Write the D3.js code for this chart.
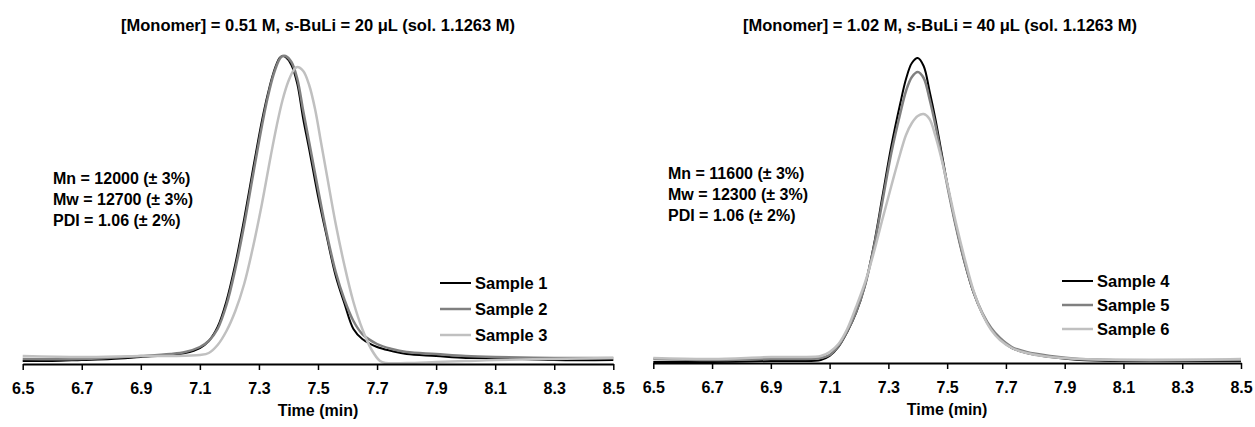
<!DOCTYPE html>
<html><head><meta charset="utf-8">
<script src="https://cdn.jsdelivr.net/npm/d3@7"></script>
<style>
html,body{margin:0;padding:0;background:#fff;}
text{font-family:"Liberation Sans",Arial,sans-serif;font-weight:bold;fill:#000;}
</style></head>
<body>
<svg id="c" width="1255" height="427"></svg>
<script>
// ---- data ----
const xTicks = [6.5, 6.7, 6.9, 7.1, 7.3, 7.5, 7.7, 7.9, 8.1, 8.3, 8.5];
const xTickLabels = ["6.5","6.7","6.9","7.1","7.3","7.5","7.7","7.9","8.1","8.3","8.5"];

const leftTitle = ["[Monomer] = 0.51 M, ", "s", "-BuLi = 20 μL (sol. 1.1263 M)"];
const rightTitle = ["[Monomer] = 1.02 M, ", "s", "-BuLi = 40 μL (sol. 1.1263 M)"];
const leftStats = ["Mn = 12000 (± 3%)", "Mw = 12700 (± 3%)", "PDI = 1.06 (± 2%)"];
const rightStats = ["Mn = 11600 (± 3%)", "Mw = 12300 (± 3%)", "PDI = 1.06 (± 2%)"];
const leftNames = ["Sample 1", "Sample 2", "Sample 3"];
const rightNames = ["Sample 4", "Sample 5", "Sample 6"];
const xLabel = "Time (min)";

// detector signal (relative height) vs time (min)
const sample1 = [[6.50,3],[6.60,3],[6.70,4],[6.80,5],[6.90,7],[7.00,9],[7.05,11],[7.10,16],[7.13,23],[7.16,37],[7.19,63],[7.22,100],[7.25,145],[7.28,195],[7.31,243],[7.33,270],[7.35,292],[7.37,306],[7.38,308],[7.39,307],[7.41,299],[7.43,280],[7.45,245],[7.47,215],[7.50,168],[7.53,127],[7.56,88],[7.59,60],[7.62,35],[7.65,25],[7.70,17],[7.75,13],[7.80,10],[7.90,8],[8.00,6],[8.10,6],[8.30,4],[8.50,4]];
const sample2 = [[6.50,5],[6.70,5],[6.90,8],[7.00,10],[7.05,12],[7.10,17],[7.13,23],[7.16,35],[7.19,59],[7.22,95],[7.25,139],[7.28,189],[7.31,238],[7.33,267],[7.35,290],[7.37,305],[7.38,308],[7.39,308],[7.41,302],[7.43,285],[7.45,253],[7.47,222],[7.50,175],[7.53,130],[7.56,92],[7.59,64],[7.62,43],[7.65,30],[7.70,20],[7.75,15],[7.80,12],[7.90,10],[8.00,8],[8.10,7],[8.30,6],[8.50,6]];
const sample3 = [[6.50,8],[6.70,7],[6.90,8],[7.00,8],[7.10,9],[7.13,11],[7.16,19],[7.19,33],[7.22,53],[7.25,80],[7.28,117],[7.31,160],[7.34,208],[7.36,238],[7.38,264],[7.40,283],[7.42,295],[7.43,297],[7.45,293],[7.47,279],[7.49,255],[7.51,222],[7.53,189],[7.56,140],[7.59,98],[7.62,62],[7.65,35],[7.68,15],[7.71,3],[7.73,1],[7.80,1],[7.90,2],[8.00,3],[8.10,4],[8.30,5],[8.50,6]];
const sample4 = [[6.50,1],[6.70,1],[6.90,2],[7.00,2],[7.07,3],[7.10,7],[7.13,16],[7.16,31],[7.19,50],[7.22,77],[7.25,117],[7.28,167],[7.31,217],[7.34,259],[7.36,284],[7.38,300],[7.40,305],[7.42,297],[7.44,272],[7.46,244],[7.48,212],[7.50,180],[7.53,137],[7.56,100],[7.59,70],[7.62,49],[7.65,34],[7.68,24],[7.72,15],[7.77,10],[7.85,6],[7.95,3],[8.10,2],[8.30,2],[8.50,2]];
const sample5 = [[6.50,4],[6.70,3],[6.90,4],[7.00,4],[7.07,5],[7.10,8],[7.13,17],[7.16,32],[7.19,51],[7.22,77],[7.25,115],[7.28,162],[7.31,210],[7.34,249],[7.36,272],[7.38,286],[7.40,291],[7.42,285],[7.44,264],[7.46,238],[7.48,208],[7.50,178],[7.53,136],[7.56,100],[7.59,71],[7.62,50],[7.65,35],[7.68,25],[7.72,16],[7.77,11],[7.85,7],[7.95,4],[8.10,3],[8.30,3],[8.50,3]];
const sample6 = [[6.50,5],[6.70,4],[6.90,6],[7.00,6],[7.07,7],[7.10,11],[7.13,19],[7.16,34],[7.19,56],[7.22,80],[7.25,110],[7.28,144],[7.31,177],[7.34,209],[7.36,228],[7.38,240],[7.40,247],[7.42,249],[7.44,244],[7.46,227],[7.48,205],[7.50,180],[7.53,140],[7.56,104],[7.59,72],[7.62,49],[7.65,33],[7.68,23],[7.72,15],[7.77,10],[7.85,6],[7.95,4],[8.10,3],[8.30,3],[8.50,4]];

const seriesColors = ["#000000", "#808080", "#c0c0c0"];
const seriesWidths = [2, 2.5, 2.5];

// ---- layout ----
const svg = d3.select("#c");
const panels = [
  {x0:22.7, x1:613.3, axisY:364, title:leftTitle, tx:318, stats:leftStats, sx:53, sy:184, names:leftNames, lx:440, ly:283, lgap:26, data:[sample1,sample2,sample3]},
  {x0:653.3, x1:1241, axisY:363, title:rightTitle, tx:940, stats:rightStats, sx:668, sy:179, names:rightNames, lx:1062, ly:281, lgap:24, data:[sample4,sample5,sample6]}
];

panels.forEach(p => {
  const g = svg.append("g");
  const x = d3.scaleLinear().domain([6.5, 8.5]).range([p.x0, p.x1]);
  const y = d3.scaleLinear().domain([0, 310]).range([p.axisY, p.axisY - 310]);

  // title
  const t = g.append("text").attr("x", p.tx).attr("y", 31).attr("text-anchor", "middle").style("font-size", "16.5px");
  t.append("tspan").text(p.title[0]);
  t.append("tspan").style("font-style", "italic").text(p.title[1]);
  t.append("tspan").text(p.title[2]);

  // curves
  const line = d3.line().x(d => x(d[0])).y(d => y(d[1])).curve(d3.curveCatmullRom.alpha(0.5));
  p.data.forEach((s, i) => {
    g.append("path").datum(s).attr("d", line).attr("fill", "none")
      .attr("stroke", seriesColors[i]).attr("stroke-width", seriesWidths[i]).attr("stroke-linejoin", "round");
  });

  // axis
  const ax = d3.axisBottom(x).tickValues(xTicks).tickFormat((d, i) => xTickLabels[i]).tickSize(6).tickSizeOuter(0).tickPadding(13);
  const axg = g.append("g").attr("transform", `translate(0,${p.axisY})`).call(ax);
  axg.select(".domain").attr("stroke", "#000").attr("stroke-width", 2);
  axg.selectAll(".tick line").attr("stroke", "#000").attr("stroke-width", 1.5);
  axg.selectAll(".tick text").style("font-size", "16px").style("font-family", "'Liberation Sans',Arial,sans-serif").style("font-weight", "bold").attr("fill", "#000");

  g.append("text").attr("x", (p.x0 + p.x1) / 2).attr("y", p.axisY + 52).attr("text-anchor", "middle").style("font-size", "16px").text(xLabel);

  // stats
  p.stats.forEach((s, i) => {
    g.append("text").attr("x", p.sx).attr("y", p.sy + i * 21).style("font-size", "16px").text(s);
  });

  // legend
  p.names.forEach((n, i) => {
    const ly = p.ly + i * p.lgap;
    g.append("line").attr("x1", p.lx).attr("x2", p.lx + 31).attr("y1", ly).attr("y2", ly)
      .attr("stroke", seriesColors[i]).attr("stroke-width", seriesWidths[i]);
    g.append("text").attr("x", p.lx + 35).attr("y", ly + 6).style("font-size", "16.5px").text(n);
  });
});
</script>
</body></html>
